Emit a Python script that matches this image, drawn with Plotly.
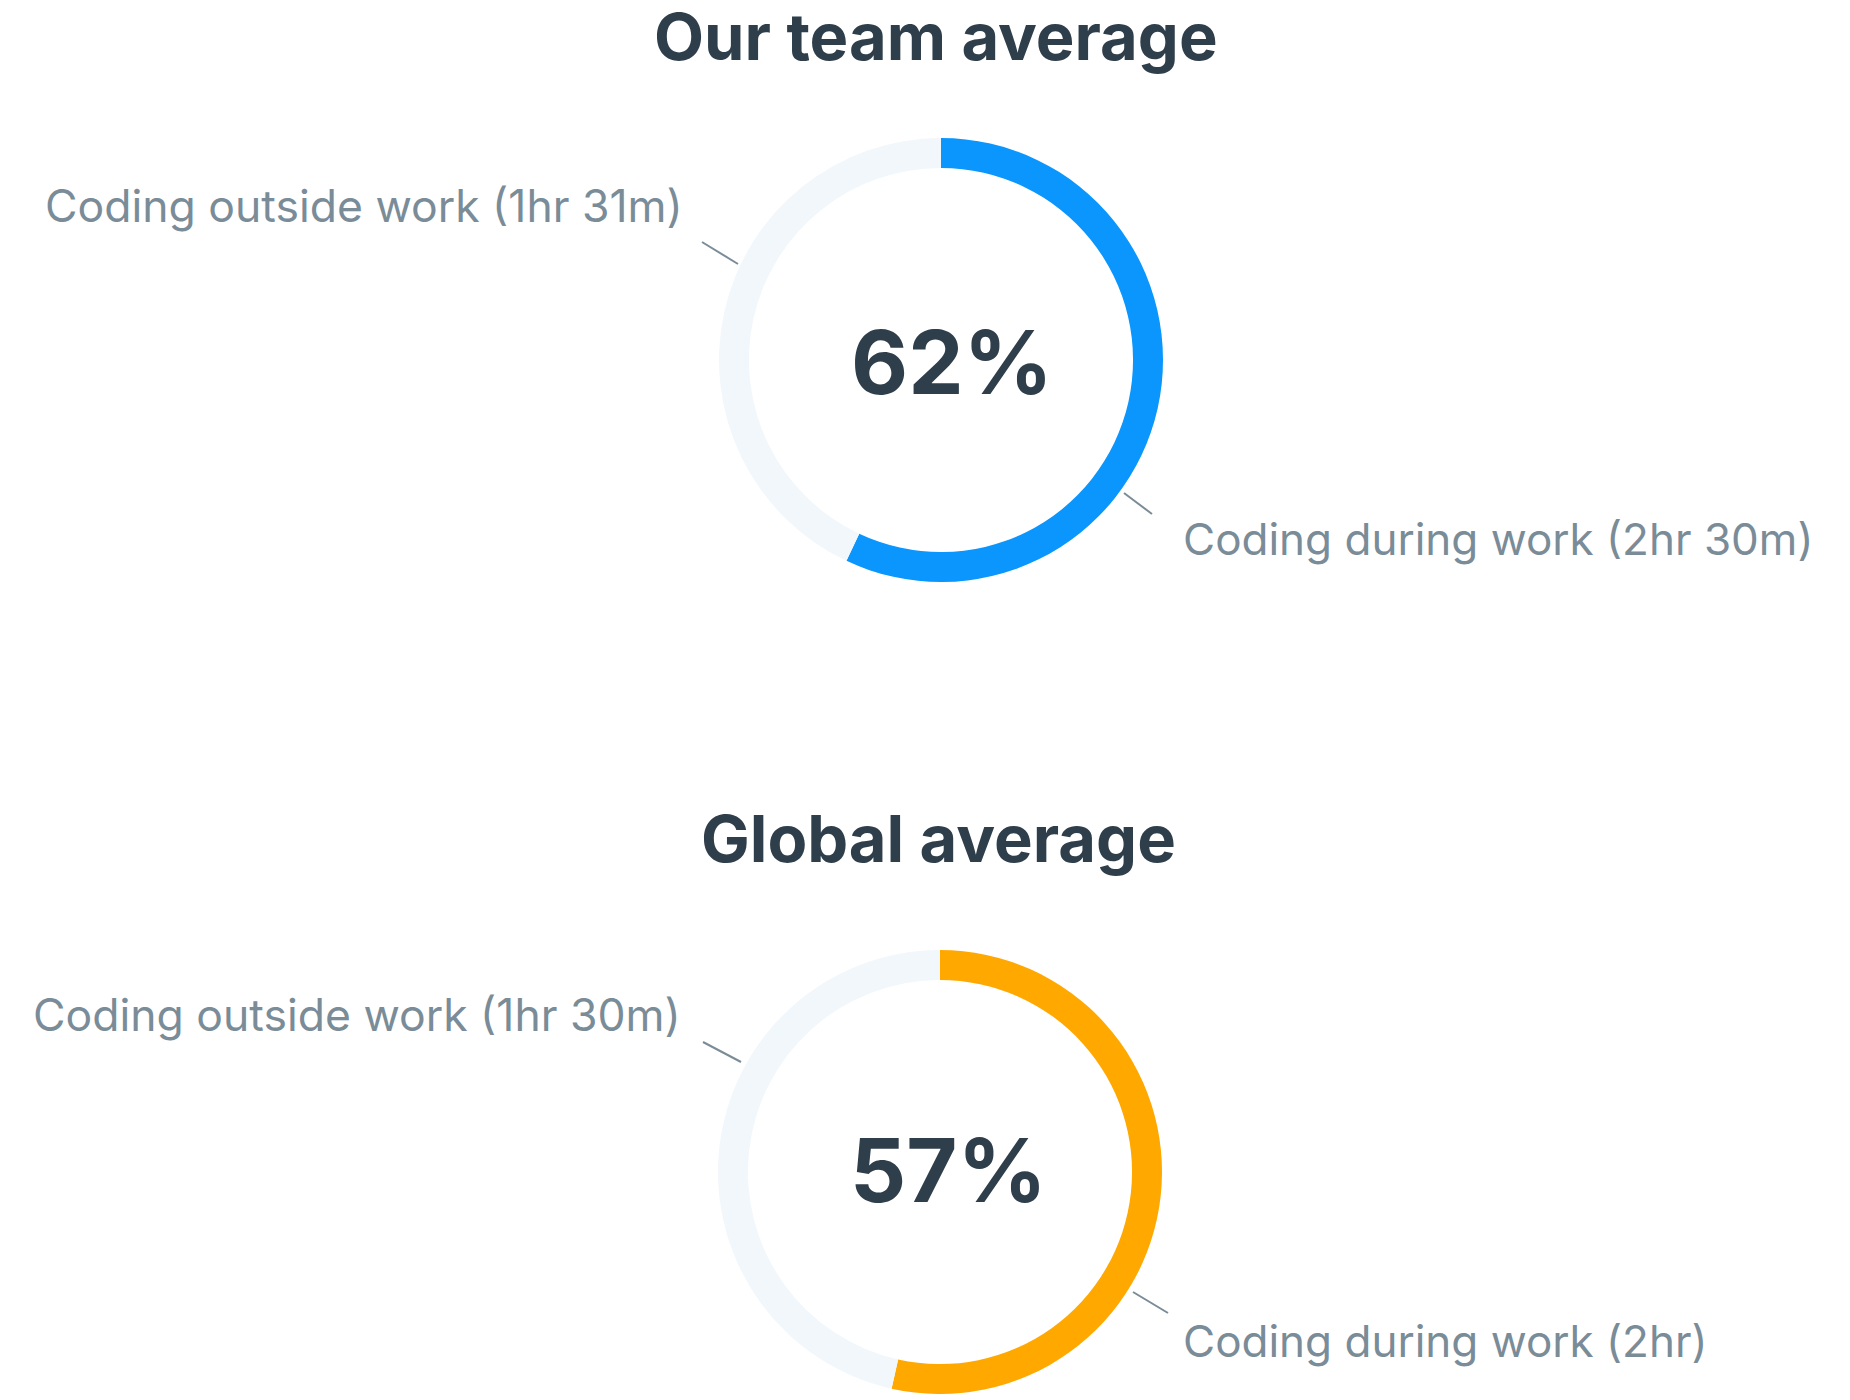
import plotly.graph_objects as go

W, H = 1850, 1400
OFF = 8  # default page body margin in the browser

# Data
titles = ["Our team average", "Global average"]
segment_names = ["Coding during work", "Coding outside work"]
team_arc_share = [57.0, 43.0]
global_arc_share = [53.5, 46.5]
team_labels = ["Coding during work (2hr 30m)", "Coding outside work (1hr 31m)"]
global_labels = ["Coding during work (2hr)", "Coding outside work (1hr 30m)"]
team_pct = "62%"
global_pct = "57%"

DARK = "#2f3e4b"
GREY_TXT = "#7a8c98"
RING_BG = "#f2f7fb"
BLUE = "#0a96fd"
ORANGE = "#ffa800"
FONT = "Inter"


def px(x):
    return (x - OFF) / W


def py(y):
    return 1 - (y - OFF) / H


def dom(cx, cy, r):
    return dict(x=[px(cx - r), px(cx + r)], y=[py(cy + r), py(cy - r)])


fig = go.Figure()
fig.add_trace(go.Pie(
    labels=segment_names, values=team_arc_share, hole=0.865, sort=False,
    direction="clockwise", rotation=0, textinfo="none", hoverinfo="label",
    marker=dict(colors=[BLUE, RING_BG], line=dict(width=0)),
    domain=dom(941, 360, 222), showlegend=False,
))
fig.add_trace(go.Pie(
    labels=segment_names, values=global_arc_share, hole=0.865, sort=False,
    direction="clockwise", rotation=0, textinfo="none", hoverinfo="label",
    marker=dict(colors=[ORANGE, RING_BG], line=dict(width=0)),
    domain=dom(940, 1172, 222), showlegend=False,
))

annotations = []


def ann(text, x, y, size, color, weight=400, xanchor="center"):
    annotations.append(dict(
        text=text, x=px(x), y=py(y), xref="paper", yref="paper",
        xanchor=xanchor, yanchor="middle", showarrow=False,
        font=dict(family=FONT, size=size, color=color, weight=weight),
    ))


# Titles
ann(titles[0], 936, 36, 65, DARK, 700)
ann(titles[1], 939, 838, 65, DARK, 700)
# Center percentages
ann(team_pct, 952, 362, 88, DARK, 700)
ann(global_pct, 948, 1170, 88, DARK, 700)
# Segment labels
ann(team_labels[1], 685, 206, 44.5, GREY_TXT, 400, "right")
ann(team_labels[0], 1181, 539, 44, GREY_TXT, 400, "left")
ann(global_labels[1], 683, 1015, 44.5, GREY_TXT, 400, "right")
ann(global_labels[0], 1181, 1341, 44, GREY_TXT, 400, "left")

shapes = []


def leader(x0, y0, x1, y1):
    shapes.append(dict(type="line", xref="paper", yref="paper",
                       x0=px(x0), y0=py(y0), x1=px(x1), y1=py(y1),
                       line=dict(color=GREY_TXT, width=2)))


leader(702, 242, 738, 264)
leader(1124, 493, 1152, 514)
leader(703, 1042, 741, 1062)
leader(1133, 1292, 1168, 1313)

fig.update_layout(
    width=W, height=H, margin=dict(l=0, r=0, t=0, b=0),
    paper_bgcolor="white", plot_bgcolor="white",
    annotations=annotations, shapes=shapes,
    font=dict(family=FONT),
)

fig.write_html("out.html")
